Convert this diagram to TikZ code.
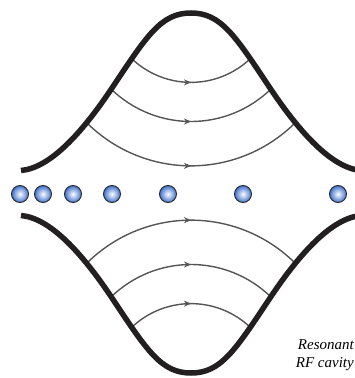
\documentclass[tikz,border=0pt]{standalone}
\usepackage{fontspec}
\setmainfont{Liberation Serif}
\usetikzlibrary{arrows.meta,decorations.markings}
\definecolor{beamblue}{RGB}{62,112,204}
\definecolor{fieldgray}{RGB}{85,85,85}
\definecolor{wallblack}{RGB}{35,31,32}

\begin{document}
\begin{tikzpicture}[x=1pt, y=-1pt,
		wall_style/.style={draw=wallblack, line width=5.5pt},
		field_style/.style={color=fieldgray, line width=1.4pt, postaction={decorate},
			decoration={markings, mark=at position 0.5 with {\arrow{Stealth[length=7pt,width=6pt]}}}},
		bunch_style/.style={circle, draw=black!85, line width=0.9pt, minimum size=17pt, inner sep=0pt,
			inner color=white, outer color=beamblue}]
		\useasboundingbox (0,0) rectangle (355,378);
		% field line ends (tucked into the walls)
		\coordinate (t1w) at (131,58);  \coordinate (t1e) at (251,58);
		\coordinate (t2w) at (111,89);  \coordinate (t2e) at (271,89);
		\coordinate (t3w) at (88,124);  \coordinate (t3e) at (294,124);
		\coordinate (b1w) at (131,328); \coordinate (b1e) at (251,328);
		\coordinate (b2w) at (111,297); \coordinate (b2e) at (271,297);
		\coordinate (b3w) at (88,262);  \coordinate (b3e) at (294,262);
		\draw[field_style] (t1w) to[bend right=44] (t1e);
		\draw[field_style] (t2w) to[bend right=44] (t2e);
		\draw[field_style] (t3w) to[bend right=44] (t3e);
		\draw[field_style] (b1w) to[bend left=44] (b1e);
		\draw[field_style] (b2w) to[bend left=44] (b2e);
		\draw[field_style] (b3w) to[bend left=44] (b3e);
		% cavity walls
		\draw[wall_style] (21,170.5) .. controls (50,168) and (82,133) .. (112,88)
			.. controls (147,35.5) and (161,13) .. (191,13)
			.. controls (221,13) and (235,35.5) .. (270,88)
			.. controls (300,133) and (332,168) .. (361,170.5);
		\draw[wall_style] (21,215.5) .. controls (50,218) and (82,253) .. (112,298)
			.. controls (147,350.5) and (161,373) .. (191,373)
			.. controls (221,373) and (235,350.5) .. (270,298)
			.. controls (300,253) and (332,218) .. (361,215.5);
		% electron bunches
		\node[bunch_style] (e1) at (20,194) {};
		\node[bunch_style] (e2) at (43,194) {};
		\node[bunch_style] (e3) at (73,194) {};
		\node[bunch_style] (e4) at (112,194) {};
		\node[bunch_style] (e5) at (168,194) {};
		\node[bunch_style] (e6) at (243,194) {};
		\node[bunch_style] (e7) at (338,194) {};
		\node[font=\itshape\fontsize{15}{18}\selectfont, align=right, anchor=north east, inner sep=0pt] (cavity) at (354,339) {Resonant\\RF cavity};
\end{tikzpicture}
\end{document}
